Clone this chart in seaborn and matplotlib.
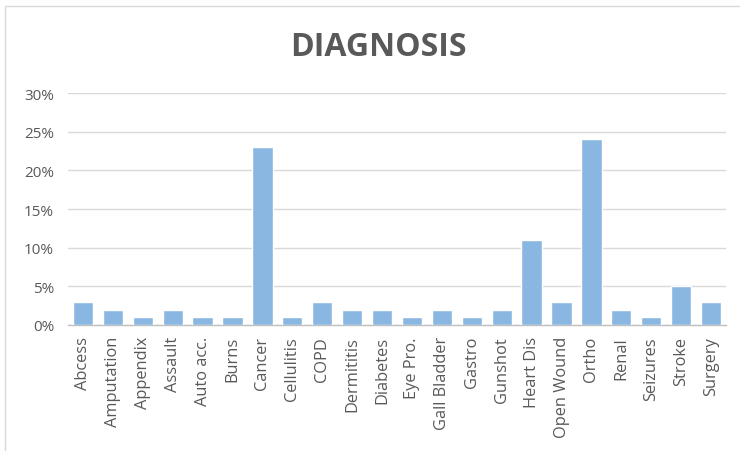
import matplotlib
matplotlib.use("Agg")
import matplotlib.pyplot as plt
import seaborn as sns
import pandas as pd
from matplotlib.patches import Rectangle
from matplotlib.ticker import PercentFormatter

categories = ["Abcess", "Amputation", "Appendix", "Assault", "Auto acc.", "Burns",
              "Cancer", "Cellulitis", "COPD", "Dermititis", "Diabetes", "Eye Pro.",
              "Gall Bladder", "Gastro", "Gunshot", "Heart Dis", "Open Wound", "Ortho",
              "Renal", "Seizures", "Stroke", "Surgery"]
values = [0.03, 0.02, 0.01, 0.02, 0.01, 0.01, 0.23, 0.01, 0.03, 0.02, 0.02, 0.01,
          0.02, 0.01, 0.02, 0.11, 0.03, 0.24, 0.02, 0.01, 0.05, 0.03]
yticks = [0, 0.05, 0.10, 0.15, 0.20, 0.25, 0.30]

sns.set_theme(style="white")
plt.rcParams['font.family'] = ['Open Sans', 'DejaVu Sans']

df = pd.DataFrame({"cat": categories, "val": values})

fig = plt.figure(figsize=(7.4, 4.52), dpi=100)
ax = fig.add_axes([68/740, 1-326/452, (726-68)/740, (326-94)/452])

sns.barplot(data=df, x="cat", y="val", color="#8AB7E2", saturation=1, width=0.68, ax=ax, zorder=3)

ax.set_xlim(-0.5, len(categories)-0.5)
ax.set_ylim(0, 0.30)
ax.set_yticks(yticks)
ax.yaxis.set_major_formatter(PercentFormatter(1.0, decimals=0))
ax.grid(axis="y", color="#D9D9D9", linewidth=1, zorder=0)
ax.set_axisbelow(True)
for s in ["top", "right", "left"]:
    ax.spines[s].set_visible(False)
ax.spines["bottom"].set_color("#BFBFBF")
ax.spines["bottom"].set_linewidth(1)
ax.set_xlabel("")
ax.set_ylabel("")
ax.tick_params(axis="x", rotation=90, labelsize=11.8, colors="#595959", length=0, pad=8)
ax.tick_params(axis="y", labelsize=11, colors="#595959", length=0, pad=10)

fig.text(378/740, 1-48/452, "DIAGNOSIS", ha="center", va="center", fontsize=23,
         fontweight="bold", color="#595959")

fig.patches.append(Rectangle((5/740, -0.05), 1.1, 1-7/452+0.05, transform=fig.transFigure,
                             fill=False, edgecolor="#D9D9D9", linewidth=1))

fig.savefig("out.png", dpi=100)
